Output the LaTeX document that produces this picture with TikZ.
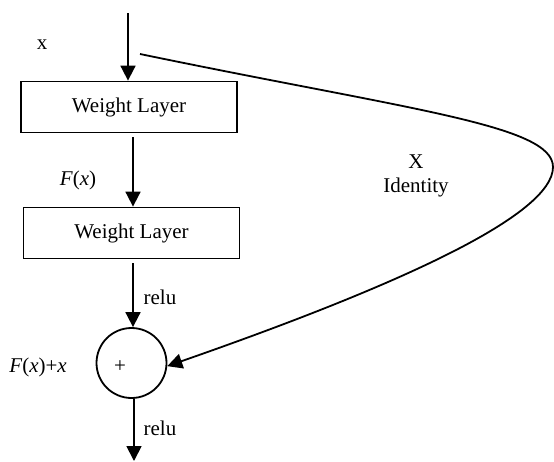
\documentclass[tikz,border=0pt]{standalone}
\usepackage{fontspec}
\setmainfont{Liberation Serif}
\usetikzlibrary{arrows.meta}
\begin{document}
\begin{tikzpicture}[x=1pt,y=-1pt,
  every node/.style={font=\fontsize{21}{25}\selectfont},
  layer/.style={draw,line width=1.8pt,minimum width=216pt,minimum height=51pt,inner sep=0pt},
  sumnode/.style={draw,circle,line width=1.8pt,minimum size=70pt,inner sep=0pt},
  conn/.style={line width=1.8pt,-{Triangle[width=15pt,length=15pt]}},
  lbl/.style={inner sep=0pt}]
\useasboundingbox (0,0) rectangle (554,461);
\node[layer] (b1) at (129,107) {Weight Layer};
\node[layer] (b2) at (131.5,233) {Weight Layer};
\node[sumnode] (c) at (131.5,363) {};
\node[lbl] (plus) at (120,367) {+};
\coordinate (in) at (128,13);
\coordinate (out) at (134,461);
\coordinate (skip) at (140,54);
\draw[conn] (in) -- (in |- b1.north);
\draw[conn,shorten <=4pt] (b1.south -| 133,0) -- (b2.north -| 133,0);
\draw[conn,shorten <=4pt] (b2.south -| 133,0) -- (c.north -| 133,0);
\draw[conn] (c.south -| 134,0) -- (out);
\draw[conn] (skip) .. controls (410,110) and (553,125) .. (553,167)
  .. controls (553,215) and (400,285) .. (c.-5);
\node[lbl] (lx) at (42,45) {x};
\node[lbl] (lf) at (78,180) {\textit{F}(\textit{x})};
\node[lbl] (lr1) at (160,297) {relu};
\node[lbl] (lsum) at (38,367) {\textit{F}(\textit{x})+\textit{x}};
\node[lbl] (lr2) at (160,428) {relu};
\node[lbl] (lX) at (416,162) {X};
\node[lbl] (lid) at (416,187) {Identity};
\end{tikzpicture}
\end{document}
